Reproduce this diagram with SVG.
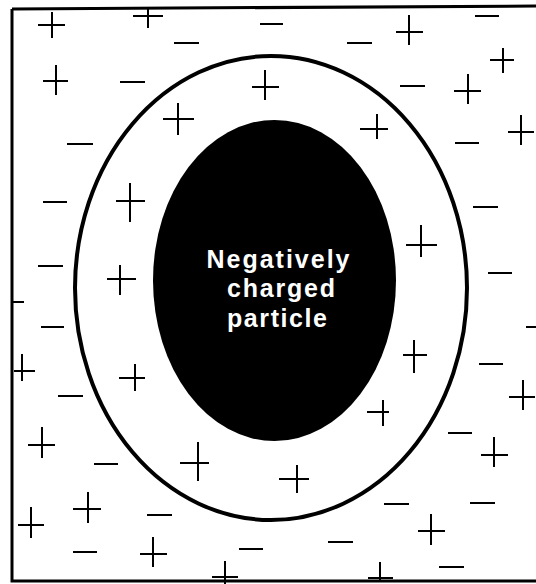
<svg xmlns="http://www.w3.org/2000/svg" width="536" height="584" viewBox="0 0 536 584">
<style>
.frame{fill:none;stroke:#000;stroke-width:3}
.outer{fill:none;stroke:#000;stroke-width:4}
.inner{fill:#000}
.sign{stroke:#000;stroke-width:2;fill:none}
.label{font-family:"Liberation Sans",Arial,sans-serif;font-weight:bold;font-size:25px;fill:#fff;text-anchor:middle}
</style>
<rect width="536" height="584" fill="#fff"/>
<path class="frame" d="M12,9 L540,6 M12,9 L12,581 L540,581"/>
<g id="outer-layer">
<ellipse class="outer" cx="271" cy="288" rx="196" ry="232"/>
</g>
<g id="particle">
<ellipse class="inner" cx="274.5" cy="280.5" rx="121.5" ry="160.5"/>
<text class="label" x="278" y="268" textLength="143" lengthAdjust="spacing">Negatively</text>
<text class="label" x="281" y="297" textLength="108" lengthAdjust="spacing">charged</text>
<text class="label" x="277" y="327" textLength="100" lengthAdjust="spacing">particle</text>
</g>
<g id="plus-signs" class="sign">
<path d="M38,25H65M52,12V38"/>
<path d="M133,16H163M148,7V28"/>
<path d="M43,81H68M56,65V95"/>
<path d="M163,119H194M178,103V135"/>
<path d="M252,87H279M265,70V100"/>
<path d="M396,32H423M409,15V45"/>
<path d="M490,60H514M503,48V73"/>
<path d="M454,91H481M468,74V104"/>
<path d="M360,129H388M377,114V139"/>
<path d="M508,132H534M521,115V145"/>
<path d="M116,201H145M130,183V222"/>
<path d="M107,279H136M120,265V295"/>
<path d="M14,371H35M22,354V381"/>
<path d="M119,378H145M135,364V391"/>
<path d="M406,245H437M421,225V257"/>
<path d="M403,355H427M414,340V373"/>
<path d="M509,397H535M523,380V410"/>
<path d="M28,445H55M42,427V458"/>
<path d="M180,463H209M198,442V481"/>
<path d="M73,509H101M88,492V523"/>
<path d="M18,525H44M31,507V538"/>
<path d="M140,554H167M153,537V567"/>
<path d="M212,577H238M225,561V584"/>
<path d="M367,412H389M383,400V426"/>
<path d="M481,455H508M494,437V467"/>
<path d="M279,479H309M297,465V493"/>
<path d="M418,531H445M431,514V545"/>
<path d="M368,578H393M380,562V581"/>
</g>
<g id="minus-signs" class="sign">
<path d="M174,43H199"/>
<path d="M260,24H283"/>
<path d="M120,82H145"/>
<path d="M67,144H93"/>
<path d="M475,16H499"/>
<path d="M347,43H372"/>
<path d="M400,86H425"/>
<path d="M455,143H479"/>
<path d="M43,202H67"/>
<path d="M38,266H63"/>
<path d="M12,302H24"/>
<path d="M41,327H64"/>
<path d="M473,207H498"/>
<path d="M488,273H512"/>
<path d="M526,327H536"/>
<path d="M479,364H503"/>
<path d="M58,396H83"/>
<path d="M94,464H118"/>
<path d="M147,515H172"/>
<path d="M73,552H97"/>
<path d="M239,549H263"/>
<path d="M448,433H472"/>
<path d="M384,504H409"/>
<path d="M470,503H495"/>
<path d="M328,542H353"/>
<path d="M439,567H464"/>
</g>
</svg>
